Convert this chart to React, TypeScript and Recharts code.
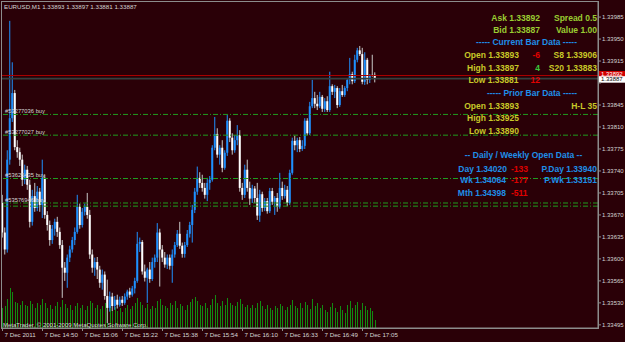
import React from "react";
import { ComposedChart, Bar, XAxis, YAxis, ReferenceLine } from "recharts";

// EURUSD M1, 7 Dec 2011 14:34 .. 17:10 (prices in points: 33893 -> 1.33893)
const OPEN = [
  33689, 33642, 33615, 33758, 33824, 33864, 33778, 33770, 33758, 33726,
  33742, 33718, 33659, 33700, 33681, 33707, 33686, 33729, 33670, 33654,
  33630, 33648, 33659, 33643, 33622, 33586, 33578, 33602, 33615, 33630,
  33643, 33683, 33654, 33675, 33683, 33670, 33607, 33586, 33595, 33583,
  33562, 33575, 33541, 33522, 33540, 33525, 33535, 33527, 33535, 33530,
  33540, 33548, 33543, 33553, 33565, 33624, 33627, 33580, 33570, 33583,
  33568, 33595, 33602, 33642, 33615, 33602, 33591, 33602, 33589, 33607,
  33622, 33640, 33621, 33608, 33622, 33640, 33654, 33678, 33707, 33729,
  33721, 33713, 33702, 33721, 33726, 33777, 33799, 33766, 33777, 33745,
  33769, 33820, 33793, 33773, 33789, 33797, 33713, 33702, 33742, 33713,
  33696, 33712, 33697, 33669, 33703, 33681, 33692, 33676, 33708, 33691,
  33697, 33683, 33713, 33700, 33710, 33689, 33737, 33788, 33781, 33789,
  33775, 33780, 33820, 33800, 33843, 33856, 33847, 33843, 33858, 33839,
  33851, 33837, 33875, 33866, 33872, 33845, 33867, 33861, 33872, 33885,
  33894, 33883, 33917, 33932, 33926, 33882, 33917, 33885, 33893, 33893,
];
const HIGH = [
  33702, 33650, 33773, 33979, 33913, 33869, 33789, 33777, 33766, 33750,
  33748, 33726, 33710, 33721, 33716, 33713, 33758, 33734, 33676, 33661,
  33654, 33664, 33667, 33650, 33630, 33595, 33607, 33621, 33635, 33650,
  33702, 33688, 33681, 33688, 33705, 33678, 33615, 33602, 33603, 33589,
  33583, 33580, 33567, 33548, 33546, 33541, 33543, 33540, 33541, 33545,
  33551, 33554, 33557, 33570, 33643, 33634, 33630, 33591, 33586, 33595,
  33602, 33607, 33657, 33648, 33622, 33611, 33607, 33607, 33615, 33627,
  33646, 33659, 33626, 33627, 33646, 33659, 33686, 33713, 33747, 33738,
  33734, 33721, 33729, 33732, 33781, 33826, 33808, 33781, 33789, 33773,
  33829, 33824, 33800, 33797, 33813, 33805, 33721, 33750, 33758, 33723,
  33718, 33716, 33721, 33710, 33707, 33697, 33697, 33713, 33713, 33700,
  33705, 33737, 33723, 33718, 33716, 33742, 33793, 33796, 33793, 33794,
  33789, 33824, 33824, 33850, 33885, 33866, 33861, 33866, 33861, 33856,
  33859, 33898, 33878, 33877, 33875, 33872, 33877, 33875, 33888, 33920,
  33898, 33925, 33936, 33939, 33936, 33929, 33920, 33894, 33925, 33897,
];
const LOW = [
  33634, 33607, 33610, 33750, 33818, 33773, 33761, 33748, 33716, 33719,
  33710, 33650, 33653, 33675, 33676, 33675, 33665, 33664, 33645, 33621,
  33624, 33637, 33635, 33616, 33538, 33565, 33554, 33595, 33610, 33622,
  33640, 33648, 33650, 33669, 33664, 33600, 33578, 33573, 33568, 33554,
  33551, 33535, 33498, 33516, 33517, 33519, 33521, 33524, 33525, 33527,
  33535, 33538, 33540, 33545, 33562, 33611, 33575, 33564, 33530, 33562,
  33565, 33586, 33595, 33556, 33595, 33586, 33584, 33583, 33562, 33602,
  33619, 33616, 33602, 33602, 33619, 33634, 33626, 33673, 33702, 33713,
  33707, 33696, 33692, 33710, 33723, 33773, 33761, 33750, 33738, 33742,
  33764, 33786, 33766, 33769, 33781, 33707, 33694, 33697, 33707, 33686,
  33689, 33689, 33662, 33659, 33675, 33676, 33672, 33673, 33686, 33670,
  33675, 33680, 33694, 33696, 33684, 33686, 33734, 33773, 33770, 33770,
  33772, 33775, 33797, 33797, 33840, 33840, 33837, 33840, 33834, 33834,
  33834, 33834, 33861, 33856, 33840, 33842, 33858, 33858, 33867, 33878,
  33878, 33880, 33913, 33923, 33878, 33877, 33878, 33880, 33890, 33881,
];
const CLOSE = [
  33642, 33615, 33758, 33824, 33864, 33778, 33770, 33758, 33726, 33742,
  33718, 33659, 33700, 33681, 33707, 33686, 33729, 33670, 33654, 33630,
  33648, 33659, 33643, 33622, 33586, 33578, 33602, 33615, 33630, 33643,
  33683, 33654, 33675, 33683, 33670, 33607, 33586, 33595, 33583, 33562,
  33575, 33541, 33522, 33540, 33525, 33535, 33527, 33535, 33530, 33540,
  33548, 33543, 33553, 33565, 33624, 33627, 33580, 33570, 33583, 33568,
  33595, 33602, 33642, 33615, 33602, 33591, 33602, 33589, 33607, 33622,
  33640, 33621, 33608, 33622, 33640, 33654, 33678, 33707, 33729, 33721,
  33713, 33702, 33721, 33726, 33777, 33799, 33766, 33777, 33745, 33769,
  33820, 33793, 33773, 33789, 33797, 33713, 33702, 33742, 33713, 33696,
  33712, 33697, 33669, 33703, 33681, 33692, 33676, 33708, 33691, 33697,
  33683, 33713, 33700, 33710, 33689, 33737, 33788, 33781, 33789, 33775,
  33780, 33820, 33800, 33843, 33856, 33847, 33843, 33858, 33839, 33851,
  33837, 33875, 33866, 33872, 33845, 33867, 33861, 33872, 33885, 33894,
  33883, 33917, 33932, 33926, 33882, 33917, 33885, 33893, 33893, 33887,
];
// tick volume
const VOLUME = [
  30, 34, 45, 62, 55, 40, 38, 35, 42, 36,
  33, 41, 37, 30, 39, 35, 44, 38, 31, 36,
  29, 34, 40, 32, 43, 37, 30, 35, 28, 33,
  39, 31, 36, 27, 34, 42, 38, 30, 35, 29,
  33, 38, 45, 36, 28, 32, 26, 30, 24, 31,
  35, 29, 33, 38, 46, 40, 35, 31, 37, 29,
  34, 30, 41, 44, 36, 33, 30, 38, 35, 42,
  31, 37, 33, 28, 35, 40, 44, 48, 42, 36,
  33, 39, 31, 35, 45, 50, 38, 34, 41, 36,
  46, 39, 35, 33, 40, 44, 37, 32, 36, 30,
  35, 31, 38, 42, 33, 29, 36, 31, 27, 34,
  30, 37, 33, 28, 32, 36, 43, 34, 30, 38,
  31, 40, 35, 29, 44, 33, 38, 31, 36, 28,
  25, 32, 38, 30, 24, 33, 28, 23, 35, 42,
  30, 36, 40, 28, 38, 33, 27, 30, 26, 12,
];

const TICK_INDEX = [0, 16, 32, 48, 64, 80, 96, 112, 128, 144];
const TICK_LABELS = [
  "7 Dec 2011", "7 Dec 14:50", "7 Dec 15:06", "7 Dec 15:22", "7 Dec 15:38",
  "7 Dec 15:54", "7 Dec 16:10", "7 Dec 16:33", "7 Dec 16:49", "7 Dec 17:05",
];
const Y_TICKS = [
  1.33985, 1.3395, 1.33915, 1.3388, 1.33845, 1.3381, 1.33775, 1.3374,
  1.33705, 1.3367, 1.33635, 1.336, 1.33565, 1.3353, 1.33495,
];
// this one sits under the bid/ask price boxes
const HIDDEN_TICK = 1.3388;

const ASK = 1.33892;
const BID = 1.33887;
const ORDER_LINES = [
  { price: 1.3383, label: "#53277036 buy" },
  { price: 1.33797, label: "#53277027 buy" },
  { price: 1.33728, label: "#53626435 buy" },
  { price: 1.33689, label: "#53576946 buy" },
  { price: 1.33684, label: "" },
];

const BG = "#2a0007";
const AXIS = "#8c8c8c";
const TXT = "#d4d4d4";
const BULL = "#1e90ff";
const BEAR = "#ffffff";
const BEAR_WICK = "#c8c8c8";
const VOL = "#128a12";
const ORDER = "#1f9c1f";
const FONT = "'Liberation Sans', Arial, sans-serif";

const PLOT_BOTTOM = 328;
const PLOT_RIGHT = 598;

const bars = OPEN.map((o, i) => ({
  i,
  open: 1 + o / 100000,
  high: 1 + HIGH[i] / 100000,
  low: 1 + LOW[i] / 100000,
  close: 1 + CLOSE[i] / 100000,
  volume: VOLUME[i],
}));

const Candle = (props: any) => {
  const { x, y, width, height, payload } = props;
  if (x == null || !payload) return null;
  const { open, high, low, close } = payload;
  const cx = x + width / 2;
  const span = high - low;
  const py = (v: number) => (span > 0 ? y + ((high - v) / span) * height : y);
  const bull = close > open;
  const top = py(Math.max(open, close));
  const bot = py(Math.min(open, close));
  return (
    <g>
      <line x1={cx} x2={cx} y1={y} y2={y + height} stroke={bull ? BULL : BEAR_WICK} strokeWidth={1} />
      <rect x={cx - 1} y={top} width={2} height={Math.max(bot - top, 1)} fill={bull ? BULL : BEAR} />
    </g>
  );
};

const VolBar = (props: any) => {
  const { x, y, width, height } = props;
  if (x == null) return null;
  return <rect x={Math.round(x + width / 2 - 0.5)} y={y} width={1} height={height} fill={VOL} shapeRendering="crispEdges" />;
};

const TimeTick = (props: any) => {
  const { x, payload } = props;
  const k = TICK_INDEX.indexOf(payload.value);
  return (
    <g>
      <line x1={x} x2={x} y1={PLOT_BOTTOM} y2={PLOT_BOTTOM + 3} stroke={AXIS} />
      <text x={x + 2} y={PLOT_BOTTOM + 9} fontSize={6.2} fill={TXT} fontFamily={FONT}>
        {k >= 0 ? TICK_LABELS[k] : ""}
      </text>
    </g>
  );
};

const PriceTick = (props: any) => {
  const { y, payload } = props;
  return (
    <g>
      <line x1={PLOT_RIGHT} x2={PLOT_RIGHT + 3} y1={y} y2={y} stroke={AXIS} />
      {payload.value !== HIDDEN_TICK && (
        <text x={PLOT_RIGHT + 4} y={y + 2} fontSize={6} fill={TXT} fontFamily={FONT}>
          {payload.value.toFixed(5)}
        </text>
      )}
    </g>
  );
};

const OrderLabel = (text: string) => (props: any) => {
  const { viewBox } = props;
  if (!viewBox || !text) return null;
  return (
    <text x={viewBox.x + 3} y={viewBox.y - 1.5} fontSize={5.8} fill={TXT} fontFamily={FONT}>
      {text}
    </text>
  );
};

const PriceBox = (text: string, bg: string, fg: string, dy: number, h: number) => (props: any) => {
  const { viewBox } = props;
  if (!viewBox) return null;
  const x0 = viewBox.x + viewBox.width + 1;
  return (
    <g>
      <rect x={x0} y={viewBox.y - h / 2 + dy} width={26} height={h} fill={bg} />
      <text x={x0 + 2} y={viewBox.y + dy + 2} fontSize={6} fill={fg} fontFamily={FONT}>
        {text}
      </text>
    </g>
  );
};

const YG = "#9acd32";
const YL = "#c8c828";
const BL = "#1e8fe8";
const RD = "#e00000";
const GR = "#3cc83c";

const PANEL = [
  { t: "Ask 1.33892", x: 540, y: 20.5, a: "end", c: YG },
  { t: "Spread 0.5", x: 597, y: 20.5, a: "end", c: YG },
  { t: "Bid 1.33887", x: 540, y: 33.3, a: "end", c: YG },
  { t: "Value 1.00", x: 597, y: 33.3, a: "end", c: YG },
  { t: "----- Current Bar Data -----", x: 526.5, y: 45.3, a: "middle", c: BL },
  { t: "Open 1.33893", x: 519, y: 58, a: "end", c: YL },
  { t: "-6", x: 540, y: 58, a: "end", c: RD },
  { t: "S8 1.33906", x: 597, y: 58, a: "end", c: YL },
  { t: "High 1.33897", x: 519, y: 70.7, a: "end", c: YL },
  { t: "4", x: 540, y: 70.7, a: "end", c: GR },
  { t: "S20 1.33883", x: 597, y: 70.7, a: "end", c: YL },
  { t: "Low 1.33881", x: 518.5, y: 83.3, a: "end", c: YL },
  { t: "12", x: 540, y: 83.3, a: "end", c: RD },
  { t: "----- Prior Bar Data -----", x: 532, y: 96, a: "middle", c: BL },
  { t: "Open 1.33893", x: 519, y: 109.3, a: "end", c: YL },
  { t: "H-L 35", x: 597, y: 109.3, a: "end", c: YL },
  { t: "High 1.33925", x: 519, y: 120.7, a: "end", c: YL },
  { t: "Low 1.33890", x: 519, y: 134, a: "end", c: YL },
  { t: "-- Daily / Weekly Open Data --", x: 523.5, y: 158.3, a: "middle", c: BL },
  { t: "Day 1.34020", x: 507, y: 171.7, a: "end", c: BL },
  { t: "-133", x: 511, y: 171.7, a: "start", c: RD },
  { t: "P.Day 1.33940", x: 597, y: 171.7, a: "end", c: BL },
  { t: "Wk 1.34064", x: 506, y: 183.3, a: "end", c: BL },
  { t: "-177", x: 511, y: 183.3, a: "start", c: RD },
  { t: "P.Wk 1.33151", x: 597, y: 183.3, a: "end", c: BL },
  { t: "Mth 1.34398", x: 506, y: 195.7, a: "end", c: BL },
  { t: "-511", x: 511, y: 195.7, a: "start", c: RD },
];

export default function App() {
  return (
    <div style={{ position: "relative", width: 625, height: 342, background: BG, overflow: "hidden" }}>
      <style>{"body{margin:0}"}</style>
      <ComposedChart width={625} height={342} data={bars} margin={{ top: 2, right: 0, bottom: 0, left: 2 }}>
        <XAxis
          xAxisId="p"
          dataKey="i"
          type="number"
          domain={[-0.2, 238.2]}
          ticks={TICK_INDEX}
          tick={<TimeTick />}
          tickLine={false}
          axisLine={{ stroke: AXIS }}
          height={14}
          interval={0}
          allowDataOverflow
        />
        <XAxis xAxisId="v" dataKey="i" type="number" domain={[-0.2, 238.2]} hide allowDataOverflow />
        <YAxis
          yAxisId="price"
          orientation="right"
          domain={[1.3349, 1.34009]}
          ticks={Y_TICKS}
          tick={<PriceTick />}
          tickLine={false}
          axisLine={{ stroke: AXIS }}
          width={27}
          interval={0}
          allowDataOverflow
        />
        <YAxis yAxisId="vol" hide domain={[0, 500]} />
        <Bar xAxisId="v" yAxisId="vol" dataKey="volume" barSize={1} shape={<VolBar />} isAnimationActive={false} />
        {ORDER_LINES.map((o, k) => (
          <ReferenceLine
            key={k}
            xAxisId="p"
            yAxisId="price"
            y={o.price}
            stroke={ORDER}
            strokeDasharray="5 2 1 2"
            label={OrderLabel(o.label)}
          />
        ))}
        <Bar
          xAxisId="p"
          yAxisId="price"
          dataKey={(d: any) => [d.low, d.high]}
          barSize={2}
          shape={<Candle />}
          isAnimationActive={false}
        />
        <ReferenceLine xAxisId="p" yAxisId="price" y={ASK} stroke="#a80000" strokeWidth={1.2} label={PriceBox("1.33892", "#d00000", "#ffffff", -1, 7)} />
        <ReferenceLine xAxisId="p" yAxisId="price" y={BID} stroke="#34403f" strokeWidth={1.8} label={PriceBox("1.33887", "#ffffff", "#000000", 0.8, 6.5)} />
      </ComposedChart>
      <svg width={625} height={342} style={{ position: "absolute", left: 0, top: 0, pointerEvents: "none" }}>
        <rect x={1.5} y={1.5} width={597} height={327} fill="none" stroke={AXIS} strokeWidth={1} />
        <text x={4} y={9} fontSize={6.2} fill={TXT} fontFamily={FONT}>
          EURUSD,M1  1.33893 1.33897 1.33881 1.33887
        </text>
        <text x={3} y={326.5} fontSize={6} fill={TXT} fontFamily={FONT}>
          MetaTrader, © 2001-2009 MetaQuotes Software Corp.
        </text>
        {PANEL.map((p, k) => (
          <text key={k} x={p.x} y={p.y} textAnchor={p.a as any} fontSize={8.5} fontWeight="bold" fill={p.c} fontFamily={FONT}>
            {p.t}
          </text>
        ))}
      </svg>
    </div>
  );
}
